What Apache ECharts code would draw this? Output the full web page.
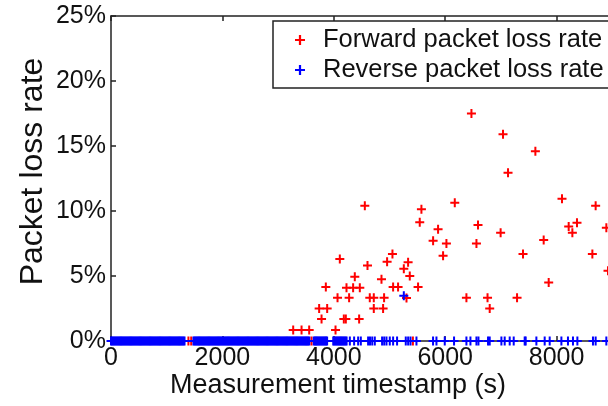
<!DOCTYPE html>
<html>
<head>
<meta charset="utf-8">
<script src="https://cdn.jsdelivr.net/npm/echarts@6/dist/echarts.min.js"></script>
<style>html,body{margin:0;padding:0;background:#fff}#c{width:608px;height:406px}</style>
</head>
<body>
<div id="c"></div>
<script>
// ---- data ----
var seriesNames = ['Forward packet loss rate', 'Reverse packet loss rate'];
var xTicks = [0, 2000, 4000, 6000, 8000, 10000];
var yTicks = [0, 5, 10, 15, 20, 25];

// forward loss: [timestamp (s), loss rate (%)]
var forwardLoss = [
  [1390,0],[1440,0],[3600,0],[5420,0],
  [3271,0.85],[3421,0.85],[3558,0.85],[4031,0.85],
  [3780,1.69],[4180,1.69],[4216,1.69],[4455,1.69],
  [3737,2.5],[3881,2.5],[4718,2.5],[4885,2.5],[6799,2.5],
  [4067,3.33],[4275,3.33],[4646,3.33],[4718,3.33],[4903,3.33],[5305,3.3],[6381,3.33],[6760,3.33],[7290,3.33],
  [3857,4.15],[4228,4.1],[4347,4.1],[4467,4.1],[5065,4.15],[5154,4.15],[5513,4.15],
  [7858,4.5],[4856,4.75],[4377,4.95],[5364,5.0],[8923,5.4],[5257,5.55],
  [4605,5.8],[4957,6.1],[5334,6.05],[4108,6.3],
  [5053,6.7],[5962,6.56],[7397,6.69],[8642,6.69],
  [6022,7.5],[6561,7.5],[5783,7.72],[7768,7.77],
  [6995,8.33],[8283,8.33],[5872,8.59],[8217,8.8],[8893,8.72],[6589,8.92],[5543,9.13],[8366,9.1],
  [5573,10.13],[4557,10.4],[8701,10.4],[6172,10.64],[8097,10.95],
  [7128,12.95],[7619,14.6],[7038,15.9],[6471,17.5]
];

// reverse loss: timestamps where reverse loss was 0 %
var reverseZeroTimes = [
  0,20,40,60,80,100,120,140,160,180,200,220,240,260,280,300,320,340,360,380,400,420,440,460,480,500,
  520,540,560,580,600,620,640,660,680,700,720,740,760,780,800,820,840,860,880,900,920,940,960,980,1000,
  1020,1040,1060,1080,1100,1120,1140,1160,1180,1200,1220,1240,1260,1280,1300,1320,
  1480,1500,1520,1540,1560,1580,1600,1620,1640,1660,1680,1700,1720,1740,1760,1780,1800,1820,1840,1860,
  1880,1900,1920,1940,1960,1980,2000,2020,2040,2060,2080,2100,2120,2140,2160,2180,2200,2220,2240,2260,
  2280,2300,2320,2340,2360,2380,2400,2420,2440,2460,2480,2500,2520,2540,2560,2580,2600,2620,2640,2660,
  2680,2700,2720,2740,2760,2780,2800,2820,2840,2860,2880,2900,2920,2940,2960,2980,3000,3020,3040,3060,
  3080,3100,3120,3140,3160,3180,3200,3220,3240,3260,3280,3300,3320,3340,3360,3380,3400,3420,3440,3460,
  3480,3500,3520,3540,3560,
  3640,3660,3680,3700,3720,3740,3760,3780,3800,3820,3840,3860,3880,
  3990,4010,4030,4050,4070,4090,4110,4130,4150,4170,4190,4210,4230,
  4288,4365,4437,4485,4616,4650,4690,4736,4867,4905,4946,5005,5065,5136,5292,5335,5377,5484,
  5782,5843,5992,6159,6381,6453,6561,6597,6769,6799,7009,7068,7158,7230,7427,7445,7637,7786,7876,
  8086,8204,8294,8373,8653,8701,8893
];
// reverse loss: non-zero samples [timestamp (s), loss rate (%)]
var reverseNonZero = [[5257,3.49]];

// ---- chart ----
var reverseLoss = reverseZeroTimes.map(function (t) { return [t, 0]; }).concat(reverseNonZero);
var plus = 'path://M3.5,0H5.5V3.5H9V5.5H5.5V9H3.5V5.5H0V3.5H3.5Z';
var FONT = '"Liberation Sans", Arial, sans-serif';
var axisColor = '#222';

var chart = echarts.init(document.getElementById('c'), null, {renderer: 'canvas'});
var commonX = {
  type: 'value', min: xTicks[0], max: xTicks[xTicks.length - 1], interval: xTicks[1] - xTicks[0],
  splitLine: {show: false},
  axisLine: {show: true, lineStyle: {color: axisColor, width: 1.5}},
  axisTick: {show: true, inside: true, length: 5, lineStyle: {color: axisColor, width: 1.5}}
};
chart.setOption({
  animation: false,
  backgroundColor: '#fff',
  textStyle: {fontFamily: FONT},
  grid: {left: 111, top: 16, bottom: 65, right: -60, containLabel: false, outerBoundsMode: 'none'},
  xAxis: [
    Object.assign({}, commonX, {
      position: 'bottom',
      axisLabel: {fontSize: 25, color: '#111', margin: 5, fontFamily: FONT,
        formatter: function (v) { return String(v); }}
    }),
    Object.assign({}, commonX, {position: 'top', axisLabel: {show: false}})
  ],
  yAxis: {
    type: 'value', min: yTicks[0], max: yTicks[yTicks.length - 1], interval: yTicks[1] - yTicks[0],
    splitLine: {show: false},
    axisLine: {show: true, lineStyle: {color: axisColor, width: 1.5}},
    axisTick: {show: true, inside: true, length: 5, lineStyle: {color: axisColor, width: 1.5}},
    axisLabel: {fontSize: 25, color: '#111', margin: 5, formatter: '{value}%', fontFamily: FONT},
    name: 'Packet loss rate', nameLocation: 'middle', nameRotate: 90, nameGap: 62,
    nameMoveOverlap: false,
    nameTextStyle: {fontSize: 32, color: '#111', fontFamily: FONT, padding: [0, 0, 0, 14]}
  },
  legend: {
    orient: 'vertical', left: 273, top: 21,
    padding: [6, 40, 5, 22],
    itemWidth: 36, itemHeight: 10, itemGap: 4,
    symbolKeepAspect: true,
    backgroundColor: '#fff', borderColor: axisColor, borderWidth: 1.5, borderRadius: 0,
    textStyle: {fontSize: 25.5, color: '#111', lineHeight: 26, fontFamily: FONT},
    data: [{name: seriesNames[0], icon: plus}, {name: seriesNames[1], icon: plus}]
  },
  graphic: [{
    type: 'text', x: 338, y: 386, z: 100,
    style: {text: 'Measurement timestamp (s)', font: '27px ' + FONT, fill: '#111', textAlign: 'center', textVerticalAlign: 'middle'}
  }],
  series: [
    {name: seriesNames[0], type: 'scatter', data: forwardLoss, symbol: plus, symbolSize: 9,
     itemStyle: {color: '#ff0000', opacity: 1}, emphasis: {disabled: true}},
    {name: seriesNames[1], type: 'scatter', data: reverseLoss, symbol: plus, symbolSize: 9,
     itemStyle: {color: '#0000ff', opacity: 1}, emphasis: {disabled: true}}
  ]
});
</script>
</body>
</html>
